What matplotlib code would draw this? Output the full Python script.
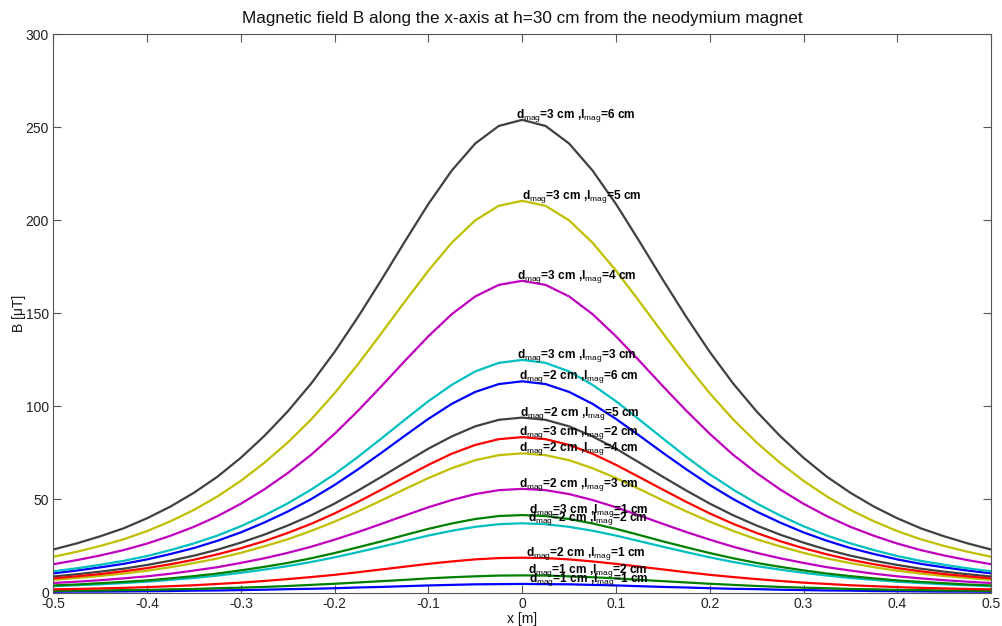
"""
Magnetic field B along the x-axis at h=30 cm above neodymium magnets
of different diameter (d_mag) and length (l_mag).
"""

import numpy as np
import matplotlib
matplotlib.use("Agg")
import matplotlib.pyplot as plt

plt.rcParams["font.family"] = ["Liberation Sans", "DejaVu Sans"]
plt.rcParams["mathtext.fontset"] = "custom"
plt.rcParams["mathtext.rm"] = "Liberation Sans"
plt.rcParams["mathtext.it"] = "Liberation Sans:italic"

# x positions (m) for one half of each curve; the curves are symmetric about x=0
x_half = [0.0, 0.025, 0.05, 0.075, 0.1, 0.125, 0.15, 0.175, 0.2, 0.225, 0.25,
          0.275, 0.3, 0.325, 0.35, 0.375, 0.4, 0.425, 0.45, 0.475, 0.5]

# magnet sizes (cm), in plotting order
d_mag = [1, 1, 2, 2, 2, 2, 2, 2, 3, 3, 3, 3, 3, 3]
l_mag = [1, 2, 1, 2, 3, 4, 5, 6, 1, 2, 3, 4, 5, 6]

# B (uT) at x_half
b_d1_l1 = [4.6, 4.5, 4.4, 4.1, 3.8, 3.4, 3.0, 2.7, 2.3, 2.0, 1.8,
           1.5, 1.3, 1.1, 1.0, 0.8, 0.7, 0.6, 0.5, 0.5, 0.4]
b_d1_l2 = [9.2, 9.1, 8.7, 8.2, 7.6, 6.8, 6.1, 5.4, 4.7, 4.1, 3.5,
           3.0, 2.6, 2.3, 1.9, 1.7, 1.4, 1.3, 1.1, 1.0, 0.8]
b_d2_l1 = [18.7, 18.5, 17.8, 16.7, 15.4, 13.9, 12.4, 10.9, 9.5, 8.3, 7.2,
           6.2, 5.3, 4.6, 3.9, 3.4, 2.9, 2.5, 2.2, 1.9, 1.7]
b_d2_l2 = [37.2, 36.7, 35.3, 33.2, 30.6, 27.6, 24.6, 21.7, 18.9, 16.4, 14.2,
           12.3, 10.6, 9.1, 7.8, 6.8, 5.8, 5.1, 4.4, 3.9, 3.4]
b_d2_l3 = [55.7, 55.0, 52.9, 49.7, 45.8, 41.4, 36.9, 32.5, 28.4, 24.6, 21.3,
           18.4, 15.9, 13.6, 11.8, 10.1, 8.7, 7.6, 6.6, 5.8, 5.1]
b_d2_l4 = [74.8, 73.8, 71.1, 66.8, 61.5, 55.6, 49.5, 43.6, 38.1, 33.1, 28.6,
           24.8, 21.3, 18.3, 15.8, 13.6, 11.7, 10.2, 8.9, 7.8, 6.8]
b_d2_l5 = [94.0, 92.8, 89.3, 83.9, 77.3, 69.8, 62.2, 54.8, 47.8, 41.5, 36.0,
           31.1, 26.8, 23.0, 19.8, 17.1, 14.8, 12.8, 11.2, 9.8, 8.6]
b_d2_l6 = [113.5, 112.0, 107.8, 101.4, 93.3, 84.3, 75.1, 66.2, 57.8, 50.2, 43.5,
           37.6, 32.3, 27.8, 23.9, 20.7, 17.8, 15.4, 13.5, 11.8, 10.3]
b_d3_l1 = [41.6, 41.1, 39.5, 37.1, 34.2, 30.9, 27.5, 24.3, 21.2, 18.4, 15.9,
           13.8, 11.9, 10.2, 8.8, 7.6, 6.5, 5.7, 5.0, 4.3, 3.8]
b_d3_l2 = [83.5, 82.4, 79.3, 74.6, 68.6, 62.0, 55.3, 48.7, 42.5, 36.9, 32.0,
           27.6, 23.8, 20.5, 17.6, 15.2, 13.1, 11.4, 9.9, 8.7, 7.6]
b_d3_l3 = [125.0, 123.4, 118.8, 111.6, 102.8, 92.9, 82.8, 72.9, 63.6, 55.3, 47.9,
           41.4, 35.6, 30.6, 26.4, 22.8, 19.6, 17.0, 14.9, 13.0, 11.4]
b_d3_l4 = [167.5, 165.3, 159.1, 149.6, 137.7, 124.5, 110.9, 97.7, 85.3, 74.0, 64.2,
           55.4, 47.7, 41.0, 35.3, 30.5, 26.3, 22.8, 19.9, 17.4, 15.2]
b_d3_l5 = [210.5, 207.8, 200.0, 188.0, 173.0, 156.4, 139.4, 122.7, 107.1, 93.0, 80.6,
           69.7, 60.0, 51.6, 44.4, 38.3, 33.0, 28.6, 25.0, 21.9, 19.2]
b_d3_l6 = [254.0, 250.7, 241.3, 226.8, 208.8, 188.7, 168.1, 148.1, 129.3, 112.3, 97.3,
           84.1, 72.4, 62.2, 53.6, 46.2, 39.9, 34.5, 30.2, 26.4, 23.1]

curves = [b_d1_l1, b_d1_l2, b_d2_l1, b_d2_l2, b_d2_l3, b_d2_l4, b_d2_l5,
          b_d2_l6, b_d3_l1, b_d3_l2, b_d3_l3, b_d3_l4, b_d3_l5, b_d3_l6]

# MATLAB default line colours: b g r c m y k
matlab_colors = ["#0000ff", "#008000", "#ff0000", "#00bfbf", "#bf00bf", "#bfbf00", "#404040"]
# where each label starts along x (m)
label_x = [0.007, 0.0057, 0.0046, 0.0057, -0.0036, -0.0036, -0.0018,
           -0.0036, 0.0075, -0.0036, -0.005, -0.005, 0.0, -0.007]


def full_curve(half):
    """Mirror a half profile (x >= 0) to cover -0.5..0.5."""
    half = np.asarray(half, dtype=float)
    xs = np.asarray(x_half)
    return np.concatenate([-xs[:0:-1], xs]), np.concatenate([half[:0:-1], half])


fig = plt.figure(figsize=(10.03, 6.26), dpi=100)
ax = fig.add_axes([0.0531, 0.0535, 0.935, 0.8918])

for i, half in enumerate(curves):
    xs, ys = full_curve(half)
    ax.plot(xs, ys, color=matlab_colors[i % 7], linewidth=1.6)

for i, half in enumerate(curves):
    label = r"d$_{\mathrm{mag}}$=%d cm ,l$_{\mathrm{mag}}$=%d cm" % (d_mag[i], l_mag[i])
    ax.annotate(label, xy=(label_x[i], max(half)), xytext=(0, 1.5),
                textcoords="offset points", ha="left", va="baseline",
                fontsize=8.6, fontweight="bold", color="black")

ax.set_xlim(-0.5, 0.5)
ax.set_ylim(0, 300)
ax.set_xticks(np.arange(-5, 6) / 10)
ax.set_xticklabels(["-0.5", "-0.4", "-0.3", "-0.2", "-0.1", "0",
                    "0.1", "0.2", "0.3", "0.4", "0.5"])
ax.set_yticks(range(0, 301, 50))

ax.tick_params(direction="in", length=6, width=0.8, color="#555555",
               top=True, right=True, labelsize=10, labelcolor="#222222", pad=3)
for s in ax.spines.values():
    s.set_color("#555555")
    s.set_linewidth(0.8)

ax.set_title("Magnetic field B along the x-axis at h=30 cm from the neodymium magnet",
             fontsize=12.3, color="#111111", pad=8)
ax.set_xlabel("x [m]", fontsize=10, labelpad=1, color="#111111")
ax.set_ylabel("B [μT]", fontsize=10, labelpad=0, color="#111111")

fig.savefig("out.png", dpi=100)
